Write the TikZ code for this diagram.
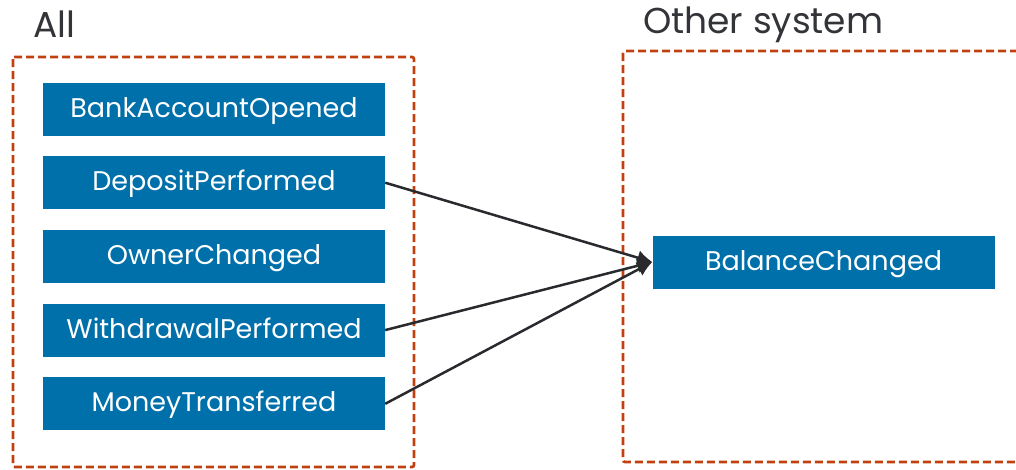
\documentclass[tikz,border=0pt]{standalone}
\usepackage{fontspec}
\setmainfont{Poppins}
\usetikzlibrary{arrows.meta, positioning}

\begin{document}
\begin{tikzpicture}[x=1pt, y=-1pt]
    % Define colors
    \definecolor{eventcolor}{RGB}{0,112,170}
    \definecolor{groupcolor}{RGB}{192,64,16}
    \definecolor{arrowcolor}{RGB}{40,42,46}
    \definecolor{titlecolor}{RGB}{50,52,56}

    % Define dimensions
    \def\evwidth{342}
    \def\evheight{53}
    \def\evspacing{73.7}

    \tikzset{
        event/.style={fill=eventcolor, text=white, minimum width=\evwidth pt,
            minimum height=\evheight pt, inner sep=0pt, text height=19pt, text depth=3pt,
            font=\fontsize{27}{30}\selectfont},
        group/.style={groupcolor, line width=2.7pt, dash pattern=on 8pt off 4pt, rounded corners=2pt},
        grouptitle/.style={anchor=base west, text=titlecolor, inner sep=0pt, font=\fontsize{36}{40}\selectfont},
        flow/.style={arrowcolor, line width=2.5pt, -{Latex[length=15pt, width=15pt]}}
    }

    \useasboundingbox (0,0) rectangle (1016,469);

    % Group boxes
    \draw[group] (13,57) rectangle (414,467);
    \draw[group] (623,51) rectangle (1030,462);

    % Group titles
    \node[grouptitle] (alltitle) at (33,37) {All};
    \node[grouptitle] (othertitle) at (643,33) {Other system};

    % Events on the left using foreach loop
    \foreach \name/\label [count=\i from 0] in {opened/BankAccountOpened, deposit/DepositPerformed,
        owner/OwnerChanged, withdrawal/WithdrawalPerformed, transfer/MoneyTransferred} {
        \node[event] (\name) at (214, 109+\i*\evspacing) {\label};
    }

    % Event in the other system
    \node[event] (balance) at (823.5,262) {BalanceChanged};

    % Mapping arrows
    \draw[flow] (deposit.east) -- (balance.west);
    \draw[flow] (withdrawal.east) -- (balance.west);
    \draw[flow] (transfer.east) -- (balance.west);

\end{tikzpicture}
\end{document}
